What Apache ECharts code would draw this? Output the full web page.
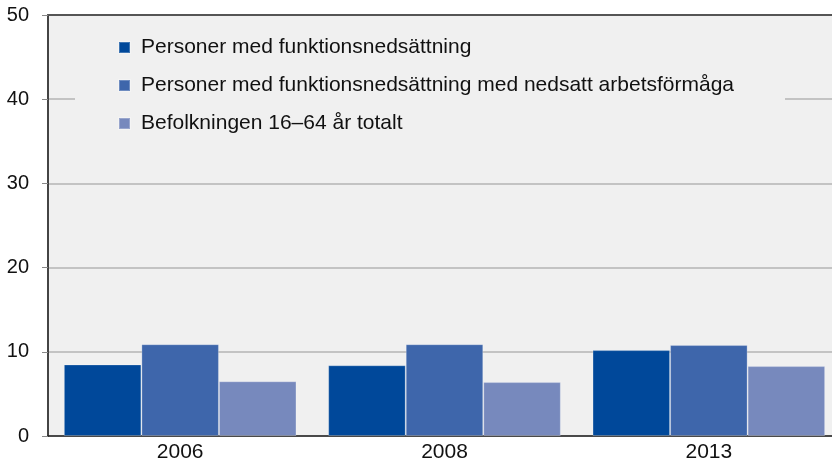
<!DOCTYPE html>
<html>
<head>
<meta charset="utf-8">
<script src="https://cdn.jsdelivr.net/npm/echarts@6/dist/echarts.min.js"></script>
<style>
  html, body { margin: 0; padding: 0; background: #fff; }
  #chart { width: 832px; height: 465px; }
</style>
</head>
<body>
<div id="chart"></div>
<script>
  // kategorier och serier
  var years = ['2006', '2008', '2013'];
  var seriesNames = [
    'Personer med funktionsnedsättning',
    'Personer med funktionsnedsättning med nedsatt arbetsförmåga',
    'Befolkningen 16–64 år totalt'
  ];
  var funktionsned = [8.5, 8.4, 10.2];
  var nedsattArbetsf = [10.9, 10.9, 10.8];
  var befolkningen = [6.5, 6.4, 8.3];
  var barColors = ['#00489a', '#3e66ab', '#7789bd'];

  var chart = echarts.init(document.getElementById('chart'));

  var font = 'Liberation Sans, Arial, sans-serif';
  var values = [funktionsned, nedsattArbetsf, befolkningen];

  var option = {
    animation: false,
    grid: {
      left: 48, width: 793, top: 15, bottom: 29,
      outerBoundsMode: 'none',
      containLabel: false,
      show: true,
      backgroundColor: '#f0f0f0',
      borderWidth: 0
    },
    legend: {
      orient: 'vertical',
      left: 75,
      top: 25,
      padding: [12, 51, 12, 43],
      backgroundColor: '#f0f0f0',
      itemWidth: 11,
      itemHeight: 11,
      itemGap: 17,
      icon: 'rect',
      textStyle: { fontFamily: font, fontSize: 21, color: '#111', lineHeight: 21, padding: [0, 0, 0, 6] },
      data: seriesNames
    },
    xAxis: [{
      type: 'category',
      data: years,
      axisLine: { lineStyle: { color: '#222', width: 1.5 } },
      axisTick: { show: false },
      axisLabel: { fontFamily: font, fontSize: 21, color: '#111', margin: 6 }
    }, {
      type: 'category',
      position: 'top',
      data: years,
      axisLine: { lineStyle: { color: '#555', width: 2 } },
      axisTick: { show: false },
      axisLabel: { show: false }
    }],
    yAxis: {
      type: 'value',
      min: 0, max: 50, interval: 10,
      axisLine: { show: true, lineStyle: { color: '#444', width: 2 } },
      axisTick: { show: true, length: 6, lineStyle: { color: '#888' } },
      axisLabel: { fontFamily: font, fontSize: 20, color: '#111', margin: 19 },
      splitLine: { lineStyle: { color: '#b4b4b4', width: 1.5 } }
    },
    series: seriesNames.map(function (name, i) {
      return {
        name: name,
        type: 'bar',
        data: values[i],
        barGap: '0%',
        barCategoryGap: '12%',
        itemStyle: { color: barColors[i], borderColor: 'rgba(255,255,255,0.25)', borderWidth: 1 }
      };
    })
  };

  chart.setOption(option);
</script>
</body>
</html>
